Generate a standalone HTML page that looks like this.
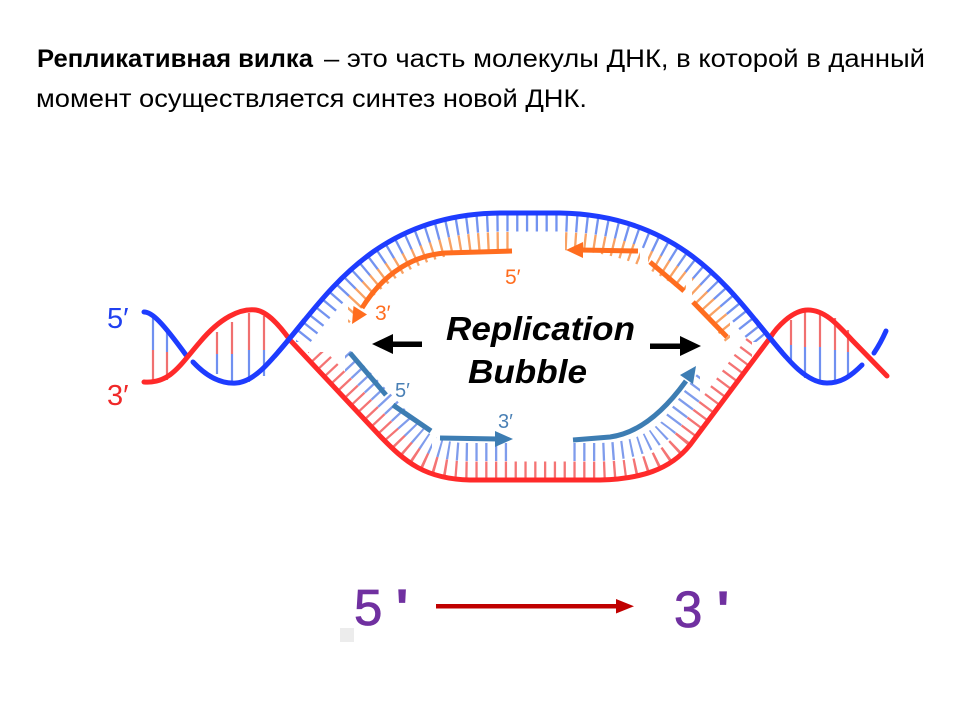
<!DOCTYPE html>
<html><head><meta charset="utf-8"><style>
html,body{margin:0;padding:0;background:#fff;width:960px;height:720px;overflow:hidden}
svg{display:block}
</style></head><body>
<svg width="960" height="720" viewBox="0 0 960 720" xmlns="http://www.w3.org/2000/svg">
<rect width="960" height="720" fill="#fff"/>
<defs>
  <clipPath id="cTopOut">
    <rect x="348" y="200" width="164" height="140"/>
    <rect x="565" y="200" width="75" height="140"/>
    <rect x="648" y="200" width="38" height="140"/>
    <rect x="692" y="200" width="38" height="145"/>
  </clipPath>
  <clipPath id="cBotOut">
    <rect x="345" y="340" width="87" height="140"/>
    <rect x="436" y="340" width="76" height="140"/>
    <rect x="570" y="340" width="130" height="140"/>
  </clipPath>
  <clipPath id="cTopTicks">
    <rect x="296" y="150" width="468" height="192"/>
  </clipPath>
  <clipPath id="cBotTicks">
    <polygon points="308,352 330,352 330,346 730,346 730,330 752,330 752,500 308,500"/>
  </clipPath>
  <mask id="mTopIn" maskUnits="userSpaceOnUse" x="0" y="0" width="960" height="720">
    <path d="M298 344 C338 296,381 224,500 223 L560 223 C679 225,722 296,762 344" stroke="#fff" stroke-width="17" fill="none"/>
  </mask>
  <mask id="mTopOut" maskUnits="userSpaceOnUse" x="0" y="0" width="960" height="720">
    <path d="M312 356 C352 308,383 242,500 241 L560 241 C677 243,708 308,748 356" stroke="#fff" stroke-width="18" fill="none" clip-path="url(#cTopOut)"/>
  </mask>
  <mask id="mBotIn" maskUnits="userSpaceOnUse" x="0" y="0" width="960" height="720">
    <path d="M297 333 L387 429 C411 455,427 470,470 470 L600 470 C639 469,664 464,682 439 L762 332" stroke="#fff" stroke-width="17" fill="none"/>
  </mask>
  <mask id="mBotOut" maskUnits="userSpaceOnUse" x="0" y="0" width="960" height="720">
    <path d="M310 321 L400 417 C421 442,433 452,470 452 L600 452 C634 451,650 443,668 428 L748 321" stroke="#fff" stroke-width="18" fill="none" clip-path="url(#cBotOut)"/>
  </mask>
  <clipPath id="cForks">
    <rect x="276" y="318" width="30" height="44"/>
    <rect x="756" y="318" width="28" height="44"/>
  </clipPath>
</defs>

<!-- Heading -->
<g font-family="'Liberation Sans', 'Noto Sans CJK SC', sans-serif" font-size="25" fill="#000">
  <text x="37" y="67" font-weight="bold" textLength="276" lengthAdjust="spacingAndGlyphs">Репликативная вилка</text>
  <text x="324" y="67" textLength="601" lengthAdjust="spacingAndGlyphs">– это часть молекулы ДНК, в которой в данный</text>
  <text x="36" y="107" textLength="551" lengthAdjust="spacingAndGlyphs">момент осуществляется синтез новой ДНК.</text>
</g>

<!-- bubble ticks -->
<g clip-path="url(#cTopTicks)">
<path d="M305 350 C345 302,382 233,500 232.5 L560 232.5 C678 234.5,715 302,755 350" stroke="#7393f0" stroke-width="38" stroke-dasharray="2.3 7.5" fill="none" mask="url(#mTopIn)"/>
<path d="M305 350 C345 302,382 233,500 232.5 L560 232.5 C678 234.5,715 302,755 350" stroke="#f8a264" stroke-width="38" stroke-dasharray="2.3 7.5" fill="none" mask="url(#mTopOut)"/>
</g>
<g clip-path="url(#cBotTicks)">
<path d="M304 327 L394 423 C416 449,430 460,470 460 L600 460 C637 459,657 453,674 433 L754 326" stroke="#f47474" stroke-width="38" stroke-dasharray="2.3 7.5" fill="none" mask="url(#mBotIn)"/>
<path d="M304 327 L394 423 C416 449,430 460,470 460 L600 460 C637 459,657 453,674 433 L754 326" stroke="#7f9cec" stroke-width="38" stroke-dasharray="2.3 7.5" fill="none" mask="url(#mBotOut)"/>
</g>

<!-- helix rungs -->
<g stroke-width="2.2">
  <line x1="153" y1="318" x2="153" y2="350" stroke="#7090f0"/><line x1="153" y1="350" x2="153" y2="381" stroke="#f07070"/>
  <line x1="167" y1="330" x2="167" y2="352" stroke="#7090f0"/><line x1="167" y1="352" x2="167" y2="380" stroke="#f07070"/>
  <line x1="217" y1="332" x2="217" y2="354" stroke="#f07070"/><line x1="217" y1="354" x2="217" y2="374" stroke="#7090f0"/>
  <line x1="232" y1="322" x2="232" y2="354" stroke="#f07070"/><line x1="232" y1="354" x2="232" y2="381" stroke="#7090f0"/>
  <line x1="249" y1="313" x2="249" y2="350" stroke="#f07070"/><line x1="249" y1="350" x2="249" y2="382" stroke="#7090f0"/>
  <line x1="264" y1="316" x2="264" y2="350" stroke="#f07070"/><line x1="264" y1="350" x2="264" y2="376" stroke="#7090f0"/>

  <line x1="791" y1="320" x2="791" y2="345" stroke="#f07070"/><line x1="791" y1="345" x2="791" y2="364" stroke="#7090f0"/>
  <line x1="805" y1="312" x2="805" y2="347" stroke="#f07070"/><line x1="805" y1="347" x2="805" y2="378" stroke="#7090f0"/>
  <line x1="820" y1="312" x2="820" y2="347" stroke="#f07070"/><line x1="820" y1="347" x2="820" y2="382" stroke="#7090f0"/>
  <line x1="835" y1="318" x2="835" y2="350" stroke="#f07070"/><line x1="835" y1="350" x2="835" y2="381" stroke="#7090f0"/>
  <line x1="848" y1="330" x2="848" y2="352" stroke="#f07070"/><line x1="848" y1="352" x2="848" y2="375" stroke="#7090f0"/>
</g>

<!-- blue template strand (helix pieces with gaps) -->
<g fill="none" stroke="#1e3cff" stroke-width="5" stroke-linecap="round">
  <path d="M144 312 C152 312,162 322,186 355"/>
  <path d="M193 362 C208 378,222 384,236 383 C254 382,270 362,290 338 C330 290,380 214,500 213 L560 213 C680 215,730 290,770 338 C785 356,805 383,827 383 C842 383,852 375,862 365"/>
  <path d="M874 353 C878 347,882 340,886 331"/>
</g>

<!-- red template strand -->
<path d="M144 382 C170 384,180 365,200 342 C220 318,240 308,256 310 C268 312,280 326,290 340 L380 436 C405 462,425 479,470 480 L600 480 C640 479,670 470,690 445 L770 338 C776 328,792 310,808 310 C825 310,838 325,852 340 L887 376" fill="none" stroke="#ff2a2a" stroke-width="5" stroke-linecap="round"/>

<!-- blue over red at forks -->
<path d="M193 362 C208 378,222 384,236 383 C254 382,270 362,290 338 C330 290,380 214,500 213 L560 213 C680 215,730 290,770 338 C785 356,805 383,827 383" fill="none" stroke="#1e3cff" stroke-width="5" clip-path="url(#cForks)"/>

<!-- orange new strands -->
<g fill="none" stroke="#ff6d1f" stroke-width="5">
  <path d="M512 251 L445 253 C405 256,378 282,362 308"/>
  <path d="M638 251 L580 250"/>
  <path d="M650 262 L684 291"/>
  <path d="M693 302 L727 337"/>
</g>
<g fill="#ff6d1f">
  <polygon points="352,324 367,314.5 353.5,306"/>
  <polygon points="566,250 583,242 583,258"/>
</g>

<!-- steel blue new strands -->
<g fill="none" stroke="#3d7db3" stroke-width="5">
  <path d="M350 353 L386 395"/>
  <path d="M393 405 L431 431"/>
  <path d="M440 438 L498 439"/>
  <path d="M573 440 L610 437 C640 433,665 410,686 381"/>
</g>
<g fill="#3d7db3">
  <polygon points="513,439 495,431 495,447"/>
  <polygon points="696,366 693,384 680,375"/>
</g>

<!-- black arrows -->
<g fill="#000">
  <rect x="390" y="341.5" width="32" height="5.5"/>
  <polygon points="372,344 393,334 393,354"/>
  <rect x="650" y="343.5" width="33" height="5.5"/>
  <polygon points="701,346 680,336 680,356"/>
</g>

<!-- labels -->
<g font-family="'Liberation Sans', sans-serif" font-style="italic" font-weight="bold" fill="#000">
  <text x="446" y="340" font-size="33" textLength="189" lengthAdjust="spacingAndGlyphs">Replication</text>
  <text x="468" y="383" font-size="33" textLength="119" lengthAdjust="spacingAndGlyphs">Bubble</text>
</g>
<g font-family="'Liberation Sans', 'DejaVu Sans', sans-serif">
  <text x="107" y="328" font-size="29" fill="#2040f0">5′</text>
  <text x="107" y="405" font-size="29" fill="#f02828">3′</text>
  <text x="375" y="320" font-size="21" fill="#ff6d1f">3′</text>
  <text x="505" y="284" font-size="21" fill="#ff6d1f">5′</text>
  <text x="395" y="397" font-size="20" fill="#4a80b5">5′</text>
  <text x="498" y="428" font-size="20" fill="#4a80b5">3′</text>
</g>

<!-- bottom 5' -> 3' -->
<g font-family="'Liberation Sans', sans-serif" fill="#7030a0" stroke="#7030a0" stroke-width="0.8">
  <text x="354" y="625" font-size="51">5</text>
  <text x="396" y="625" font-size="51" font-weight="bold">'</text>
  <text x="674" y="627" font-size="51">3</text>
  <text x="717" y="627" font-size="51" font-weight="bold">'</text>
</g>
<rect x="436" y="604" width="182" height="4.5" fill="#c00000"/>
<polygon points="616,599 634,606.2 616,613.5" fill="#c00000"/>
<rect x="340" y="628" width="14" height="14" fill="#ececec"/>
</svg>
</body></html>
